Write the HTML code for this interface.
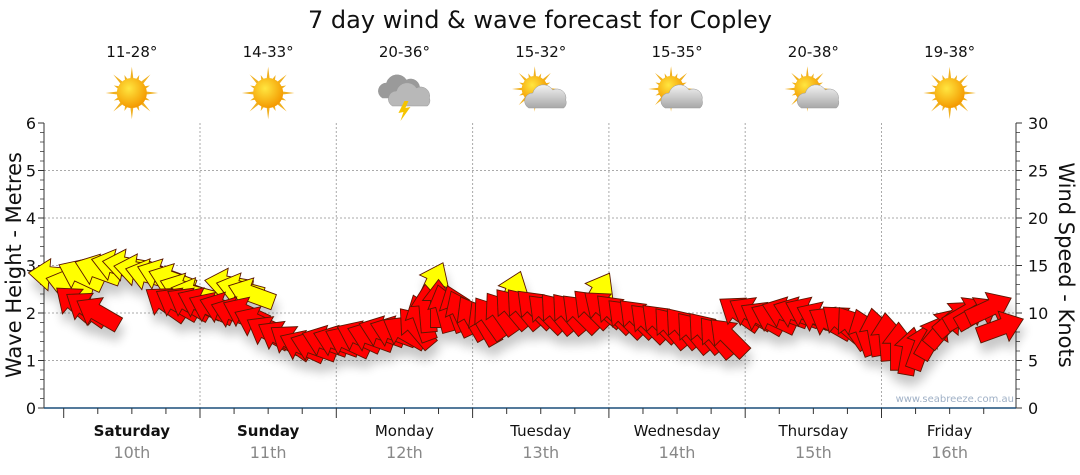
<!DOCTYPE html>
<html><head><meta charset="utf-8"><style>
body{margin:0;background:#fff;font-family:"DejaVu Sans","Liberation Sans",sans-serif}
svg{display:block}
</style></head><body>
<svg id="chart" width="1080" height="475" xmlns="http://www.w3.org/2000/svg" font-family="DejaVu Sans, Liberation Sans, sans-serif">
<defs>
<filter id="sh" x="-50%" y="-50%" width="200%" height="200%"><feGaussianBlur in="SourceAlpha" stdDeviation="5"/><feOffset dx="2" dy="10"/><feComponentTransfer><feFuncA type="linear" slope="0.22"/></feComponentTransfer><feMerge><feMergeNode/><feMergeNode in="SourceGraphic"/></feMerge></filter>
<radialGradient id="sunG" cx="40%" cy="35%" r="65%"><stop offset="0" stop-color="#ffe640"/><stop offset="1" stop-color="#f49a00"/></radialGradient>
<linearGradient id="cloudG" x1="0" y1="0" x2="0" y2="1"><stop offset="0" stop-color="#f2f2f2"/><stop offset="1" stop-color="#a8a8a8"/></linearGradient>
</defs>
<text x="540" y="28" text-anchor="middle" font-size="24" fill="#111">7 day wind &amp; wave forecast for Copley</text>
<g id="grid"></g>
<g id="axes"></g>
<g id="icons"></g>
<text x="1014" y="402" text-anchor="end" font-size="10" fill="#9fb0c6">www.seabreeze.com.au</text>
<g id="marks" filter="url(#sh)"></g>
<text transform="translate(21,265) rotate(-90)" text-anchor="middle" font-size="21" fill="#111">Wave Height - Metres</text>
<text transform="translate(1059,265) rotate(90)" text-anchor="middle" font-size="21" fill="#111">Wind Speed - Knots</text>
</svg>
<script>
const days=["Saturday","Sunday","Monday","Tuesday","Wednesday","Thursday","Friday"];
const dates=["10th","11th","12th","13th","14th","15th","16th"];
const temps=["11-28°","14-33°","20-36°","15-32°","15-35°","20-38°","19-38°"];
const icons=["sun","sun","storm","partly","partly","partly","sun"];
const waveTicks=[0,1,2,3,4,5,6];
const windTicks=[0,5,10,15,20,25,30];
// wind (red): hours from Sat 00:00, knots, arrow pointing angle (deg, screen)
const windHours=[2,4,6,18,20,22,24,26,28,30,32,34,36,38,40,42,44,46,48,50,52,54,56,58,60,62,63,64,66,67,69,70,72,74,75,77,79,81,83,85,87,89,91,93,95,97,99,101,103,105,107,109,111,113,115,117,119,121,123,125,127,129,131,133,135,137,139,141,143,145,147,149,151,153,155,157,159,161,163,165];
const windKnots=[11,10.5,10,11,11,11,11,10.5,10.5,10,10,9,8,7.5,7,6.5,6.5,7,7,7,7.5,7.5,8,8,8,8.5,9.5,10.5,11,10.5,10.5,10,9.5,9,9.5,10,10.5,10.5,10.5,10,10,10,10,10.5,10.5,10,9.5,9.5,9,9,8.5,8.5,8,8,7.5,7.5,10,10,9.5,9.5,10,10,10,9.5,9,9,8.5,8,8,7.5,6.5,6,6.5,7.5,8.5,9.5,10,10,10.5,8.5];
const windDir=[220,215,210,215,210,210,205,205,200,200,205,205,210,210,215,205,200,200,200,205,205,200,200,200,210,230,250,265,270,255,250,245,240,240,235,235,230,230,225,225,230,230,225,225,220,225,225,225,225,225,230,230,230,230,230,225,215,210,210,205,200,200,205,205,210,220,235,250,260,265,270,280,290,300,310,320,330,330,335,340];
// swell (yellow): hours, metres, pointing angle
const swellHours=[-2,1,3,6,9,11,13,15,17,19,21,23,29,31,33,65,79,94];
const swellM=[2.8,2.6,2.8,2.9,3.0,3.0,2.9,2.8,2.8,2.7,2.5,2.4,2.6,2.5,2.4,2.6,2.4,2.4];
const swellDir=[185,195,205,200,195,190,190,195,200,200,200,195,190,195,200,295,290,300];
const L=44,R=1016,T=123,B=408,X0=63.7,DW=136.3;
const NS="http://www.w3.org/2000/svg";
const xH=h=>X0+h*DW/24;
const yM=m=>B-(m/6)*(B-T);
const yK=k=>B-(k/30)*(B-T);
function el(tag,a,parent,txt){const e=document.createElementNS(NS,tag);for(const k in a)e.setAttribute(k,a[k]);if(txt!==undefined)e.textContent=txt;parent.appendChild(e);return e;}
const grid=document.getElementById('grid'),axes=document.getElementById('axes'),ic=document.getElementById('icons'),marks=document.getElementById('marks');
waveTicks.forEach(v=>{
 if(v>0&&v<6){const g=el('line',{x1:L,x2:R,y1:yM(v),y2:yM(v),stroke:'#aaa','stroke-dasharray':'2,2'},grid);
 }
 const t=el('text',{x:L-8,y:yM(v)+6,'text-anchor':'end','font-size':16,fill:'#111'},axes,v);
 
 el('line',{x1:L-6,x2:L,y1:yM(v),y2:yM(v),stroke:'#333'},axes);
 if(v<6)for(let i=1;i<5;i++)el('line',{x1:L-4,x2:L,y1:yM(v+i/5),y2:yM(v+i/5),stroke:'#666'},axes);
});
windTicks.forEach(v=>{
 const t=el('text',{x:R+12,y:yK(v)+6,'font-size':16,fill:'#111'},axes,v);
 
 el('line',{x1:R,x2:R+6,y1:yK(v),y2:yK(v),stroke:'#333'},axes);
 if(v<30)for(let i=1;i<5;i++)el('line',{x1:R,x2:R+4,y1:yK(v+i),y2:yK(v+i),stroke:'#666'},axes);
});
el('line',{x1:L,x2:L,y1:T,y2:B,stroke:'#333'},axes);
el('line',{x1:R,x2:R,y1:T,y2:B,stroke:'#333'},axes);
el('line',{x1:L,x2:R,y1:B,y2:B,stroke:'#1b4f7a','stroke-width':1.5},axes);
for(let h=0;h<=168;h+=6){const x=xH(h);if(x>R)break;el('line',{x1:x,x2:x,y1:B,y2:B+(h%24?6:10),stroke:'#333'},axes);}
days.forEach((d,i)=>{
 const xb=xH(24*(i+1));
 if(xb<R){const g=el('line',{x1:xb,x2:xb,y1:T,y2:B,stroke:'#aaa','stroke-dasharray':'2,2'},grid);}
 const cx=xH(24*i+12);
 const a=el('text',{x:cx,y:436,'text-anchor':'middle','font-size':15,fill:'#111','font-weight':i<2?'bold':'normal'},axes,d);
 
 const b=el('text',{x:cx,y:458,'text-anchor':'middle','font-size':16,fill:'#888'},axes,dates[i]);
 
 const tt=el('text',{x:cx,y:57,'text-anchor':'middle','font-size':15,fill:'#111'},ic,temps[i]);
 
 const g=el('g',{transform:`translate(${cx},93)`},ic);
 
 const sun=(sx,sy,s)=>{for(let k=0;k<16;k++){const an=k*Math.PI/8,r=k%2?s*1.3:s*1.75;el('polygon',{points:`${sx+Math.cos(an-0.12)*s*0.9},${sy+Math.sin(an-0.12)*s*0.9} ${sx+Math.cos(an)*r},${sy+Math.sin(an)*r} ${sx+Math.cos(an+0.12)*s*0.9},${sy+Math.sin(an+0.12)*s*0.9}`,fill:'#f0b020'},g);}el('circle',{cx:sx,cy:sy,r:s,fill:'url(#sunG)'},g);};
 const cloud=(dx,dy,c)=>{el('path',{d:`M${dx-18},${dy+9} a8,8 0 0 1 4,-15 a11,11 0 0 1 20,-3 a9,9 0 0 1 13,10 a7,7 0 0 1 -2,8 z`,fill:c||'url(#cloudG)',stroke:'#999','stroke-width':0.5},g);};
 if(icons[i]==='sun')sun(0,0,15);
 else if(icons[i]==='partly'){sun(-6,-4,13);cloud(6,6);}
 else{cloud(-4,-4,'#9a9a9a');cloud(6,4,'#b8b8b8');el('polygon',{points:'0,8 -6,20 -1,19 -4,28 6,14 1,15 4,8',fill:'#f5c400'},g);}
});
function arrow(x,y,ang,col,name){
 const g=el('polygon',{points:'24,0 3,-16 3,-8 -24,-8 -24,8 3,8 3,16',fill:col,stroke:'#5a1500','stroke-width':0.9,transform:`translate(${x},${y}) rotate(${ang})`},marks);
 
 
}
swellHours.forEach((h,i)=>arrow(xH(h),yM(swellM[i]),swellDir[i],'#ffff00','swell-arrow'));
windHours.forEach((h,i)=>arrow(xH(h),yK(windKnots[i]),windDir[i],'#ff0000','wind-arrow'));
</script>
</body></html>
